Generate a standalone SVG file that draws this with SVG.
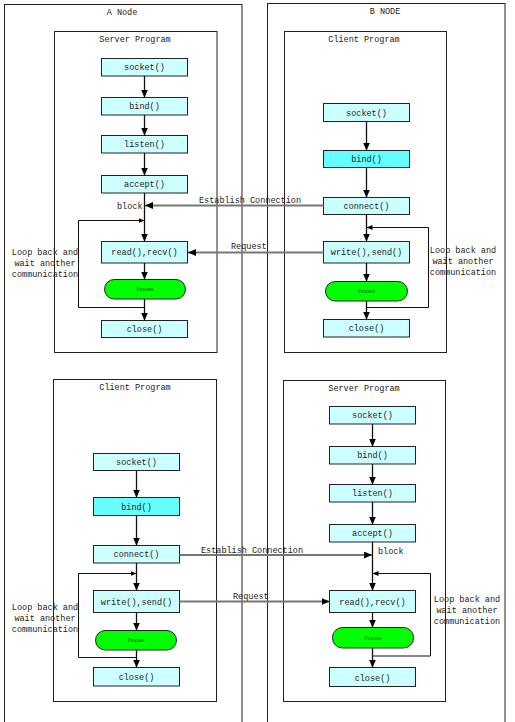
<svg xmlns="http://www.w3.org/2000/svg" width="515" height="722" viewBox="0 0 515 722">
<style>
text{font-family:"Liberation Mono","DejaVu Sans Mono",monospace;font-size:8.5px;fill:#222}
.c{text-anchor:middle}
.box{fill:#CCFFFF;stroke:#222;stroke-width:1}
.dk{fill:#66FFFF}
.proc{fill:#00FF00;stroke:#222;stroke-width:1}
.pt{font-family:"Liberation Serif",serif;font-size:5.5px;fill:#114411}
.frame{fill:none;stroke:#222;stroke-width:1}
.ln{fill:none;stroke:#111;stroke-width:1.3}
.lp{fill:none;stroke:#111;stroke-width:1}
.msg{fill:none;stroke:#777;stroke-width:2}
</style>
<defs>
<marker id="ar" markerUnits="userSpaceOnUse" markerWidth="8" markerHeight="8" refX="8" refY="3.5" orient="auto"><path d="M0,0 L8,3.5 L0,7 z" fill="#000"/></marker>
<marker id="sm" markerUnits="userSpaceOnUse" markerWidth="6" markerHeight="6" refX="6" refY="2.5" orient="auto"><path d="M0,0 L6,2.5 L0,5 z" fill="#000"/></marker>
</defs>
<rect width="515" height="722" fill="#fff"/>
<g id="nodeA">
<rect class="frame" x="4.5" y="4.5" width="237.5" height="730"/>
<text class="c" x="122" y="15">A Node</text>
</g>
<g id="nodeB">
<rect class="frame" x="267.5" y="3.5" width="237.5" height="730"/>
<text class="c" x="385" y="14">B NODE</text>
</g>
<g id="a-server">
<rect class="frame" x="54.5" y="31.5" width="162.5" height="321"/>
<text class="c" x="135" y="42">Server Program</text>
<g id="a-s-socket"><rect class="box" x="101.5" y="58.5" width="86" height="17.5"/><text class="c" x="144.5" y="70">socket()</text></g>
<g id="a-s-bind"><rect class="box" x="101.5" y="97.5" width="86" height="17.5"/><text class="c" x="144.5" y="109">bind()</text></g>
<g id="a-s-listen"><rect class="box" x="101.5" y="135.5" width="86" height="17.5"/><text class="c" x="144.5" y="147">listen()</text></g>
<g id="a-s-accept"><rect class="box" x="101.5" y="175.5" width="86" height="17.5"/><text class="c" x="144.5" y="187">accept()</text></g>
<g id="a-s-read"><rect class="box" x="101.5" y="241.5" width="86" height="21.5"/><text class="c" x="144.5" y="255">read(),recv()</text></g>
<g id="a-s-process"><rect class="proc" x="104.5" y="279.5" width="81" height="19.5" rx="9.75"/><text class="pt c" x="145" y="291">Process</text></g>
<g id="a-s-close"><rect class="box" x="101.5" y="320.5" width="86" height="17"/><text class="c" x="144.5" y="332">close()</text></g>
</g>
<g id="b-client">
<rect class="frame" x="284.5" y="31.5" width="162" height="321"/>
<text class="c" x="364" y="42">Client Program</text>
<g id="b-c-socket"><rect class="box" x="323.5" y="103.5" width="86" height="18"/><text class="c" x="366.5" y="115.5">socket()</text></g>
<g id="b-c-bind"><rect class="box dk" x="323.5" y="150.5" width="86" height="17"/><text class="c" x="366.5" y="162">bind()</text></g>
<g id="b-c-connect"><rect class="box" x="323.5" y="197.5" width="86" height="17"/><text class="c" x="366.5" y="209">connect()</text></g>
<g id="b-c-write"><rect class="box" x="323.5" y="241.5" width="86" height="21.5"/><text class="c" x="366.5" y="255">write(),send()</text></g>
<g id="b-c-process"><rect class="proc" x="325.5" y="281.5" width="82" height="19.5" rx="9.75"/><text class="pt c" x="366.5" y="293">Process</text></g>
<g id="b-c-close"><rect class="box" x="323.5" y="319.5" width="86" height="17.5"/><text class="c" x="366.5" y="331">close()</text></g>
</g>
<g id="a-client">
<rect class="frame" x="53.5" y="379.5" width="163" height="322"/>
<text class="c" x="135" y="390">Client Program</text>
<g id="a-c-socket"><rect class="box" x="93.5" y="453.5" width="86" height="17"/><text class="c" x="136.5" y="465">socket()</text></g>
<g id="a-c-bind"><rect class="box dk" x="93.5" y="497.5" width="86" height="18"/><text class="c" x="136.5" y="509.5">bind()</text></g>
<g id="a-c-connect"><rect class="box" x="93.5" y="545.5" width="86" height="17.5"/><text class="c" x="136.5" y="557">connect()</text></g>
<g id="a-c-write"><rect class="box" x="93.5" y="590.5" width="86" height="22"/><text class="c" x="136.5" y="604.5">write(),send()</text></g>
<g id="a-c-process"><rect class="proc" x="95.5" y="630.5" width="81" height="19.5" rx="9.75"/><text class="pt c" x="136" y="642">Process</text></g>
<g id="a-c-close"><rect class="box" x="93.5" y="667.5" width="86" height="18.5"/><text class="c" x="136.5" y="680">close()</text></g>
</g>
<g id="b-server">
<rect class="frame" x="283.5" y="380.5" width="162" height="321"/>
<text class="c" x="364" y="391">Server Program</text>
<g id="b-s-socket"><rect class="box" x="329.5" y="406.5" width="86" height="17.5"/><text class="c" x="372.5" y="418">socket()</text></g>
<g id="b-s-bind"><rect class="box" x="329.5" y="446.5" width="86" height="17.5"/><text class="c" x="372.5" y="458">bind()</text></g>
<g id="b-s-listen"><rect class="box" x="329.5" y="484.5" width="86" height="17.5"/><text class="c" x="372.5" y="496">listen()</text></g>
<g id="b-s-accept"><rect class="box" x="329.5" y="524.5" width="86" height="17.5"/><text class="c" x="372.5" y="536">accept()</text></g>
<g id="b-s-read"><rect class="box" x="329.5" y="590.5" width="86" height="22"/><text class="c" x="372.5" y="604.5">read(),recv()</text></g>
<g id="b-s-process"><rect class="proc" x="332.5" y="627.5" width="81" height="20.5" rx="10"/><text class="pt c" x="373" y="640">Process</text></g>
<g id="b-s-close"><rect class="box" x="329.5" y="667.5" width="86" height="19"/><text class="c" x="372.5" y="680.5">close()</text></g>
</g>
<g id="connectors">
<!-- A server -->
<line class="ln" x1="144.5" y1="76" x2="144.5" y2="97.5" marker-end="url(#ar)"/>
<line class="ln" x1="144.5" y1="115" x2="144.5" y2="135.5" marker-end="url(#ar)"/>
<line class="ln" x1="144.5" y1="153" x2="144.5" y2="175.5" marker-end="url(#ar)"/>
<line class="ln" x1="144.5" y1="193" x2="144.5" y2="241.5" marker-end="url(#ar)"/>
<line class="ln" x1="144.5" y1="263" x2="144.5" y2="279.5" marker-end="url(#ar)"/>
<line class="ln" x1="144.5" y1="299" x2="144.5" y2="320.5" marker-end="url(#ar)"/>
<polyline class="lp" points="144.5,307.5 78.5,307.5 78.5,220.5 144.5,220.5" marker-end="url(#sm)"/>
<!-- B client -->
<line class="ln" x1="366.5" y1="122" x2="366.5" y2="150.5" marker-end="url(#ar)"/>
<line class="ln" x1="366.5" y1="168" x2="366.5" y2="197.5" marker-end="url(#ar)"/>
<line class="ln" x1="366.5" y1="215" x2="366.5" y2="241.5" marker-end="url(#ar)"/>
<line class="ln" x1="366.5" y1="263" x2="366.5" y2="281.5" marker-end="url(#ar)"/>
<line class="ln" x1="366.5" y1="301" x2="366.5" y2="319.5" marker-end="url(#ar)"/>
<polyline class="lp" points="366.5,307.5 428.5,307.5 428.5,227.5 366.5,227.5" marker-end="url(#sm)"/>
<!-- A client -->
<line class="ln" x1="136.5" y1="471" x2="136.5" y2="497.5" marker-end="url(#ar)"/>
<line class="ln" x1="136.5" y1="516" x2="136.5" y2="545.5" marker-end="url(#ar)"/>
<line class="ln" x1="136.5" y1="563" x2="136.5" y2="590.5" marker-end="url(#ar)"/>
<line class="ln" x1="136.5" y1="613" x2="136.5" y2="630.5" marker-end="url(#ar)"/>
<line class="ln" x1="136.5" y1="650" x2="136.5" y2="667.5" marker-end="url(#ar)"/>
<polyline class="lp" points="136.5,657.5 78.5,657.5 78.5,573.5 136.5,573.5" marker-end="url(#sm)"/>
<!-- B server -->
<line class="ln" x1="372.5" y1="424" x2="372.5" y2="446.5" marker-end="url(#ar)"/>
<line class="ln" x1="372.5" y1="464" x2="372.5" y2="484.5" marker-end="url(#ar)"/>
<line class="ln" x1="372.5" y1="502" x2="372.5" y2="524.5" marker-end="url(#ar)"/>
<line class="ln" x1="372.5" y1="542" x2="372.5" y2="590.5" marker-end="url(#ar)"/>
<line class="ln" x1="372.5" y1="613" x2="372.5" y2="627.5" marker-end="url(#ar)"/>
<line class="ln" x1="372.5" y1="648" x2="372.5" y2="667.5" marker-end="url(#ar)"/>
<polyline class="lp" points="372.5,656 430.5,656 430.5,573.5 372.5,573.5" marker-end="url(#sm)"/>
<!-- messages -->
<line class="msg" x1="323.5" y1="205.5" x2="145" y2="205.5" marker-end="url(#ar)"/>
<line class="msg" x1="323.5" y1="252.5" x2="188" y2="252.5" marker-end="url(#ar)"/>
<line class="msg" x1="179.5" y1="555" x2="372" y2="555" marker-end="url(#ar)"/>
<line class="msg" x1="179.5" y1="601.5" x2="329.5" y2="601.5" marker-end="url(#ar)"/>
<text x="199" y="203">Establish Connection</text>
<text x="231" y="249">Request</text>
<text x="201" y="553">Establish Connection</text>
<text x="233" y="599">Request</text>
<text x="117" y="208.5">block</text>
<text x="378" y="554">block</text>
<text class="c" x="45" y="255">Loop back and</text>
<text class="c" x="45" y="266">wait another</text>
<text class="c" x="45" y="277">communication</text>
<text class="c" x="463" y="252.5">Loop back and</text>
<text class="c" x="463" y="263.5">wait another</text>
<text class="c" x="463" y="274.5">communication</text>
<text class="c" x="45" y="609.5">Loop back and</text>
<text class="c" x="45" y="620.5">wait another</text>
<text class="c" x="45" y="631.5">communication</text>
<text class="c" x="467" y="601.5">Loop back and</text>
<text class="c" x="467" y="612.5">wait another</text>
<text class="c" x="467" y="623.5">communication</text>
</g>
</svg>
